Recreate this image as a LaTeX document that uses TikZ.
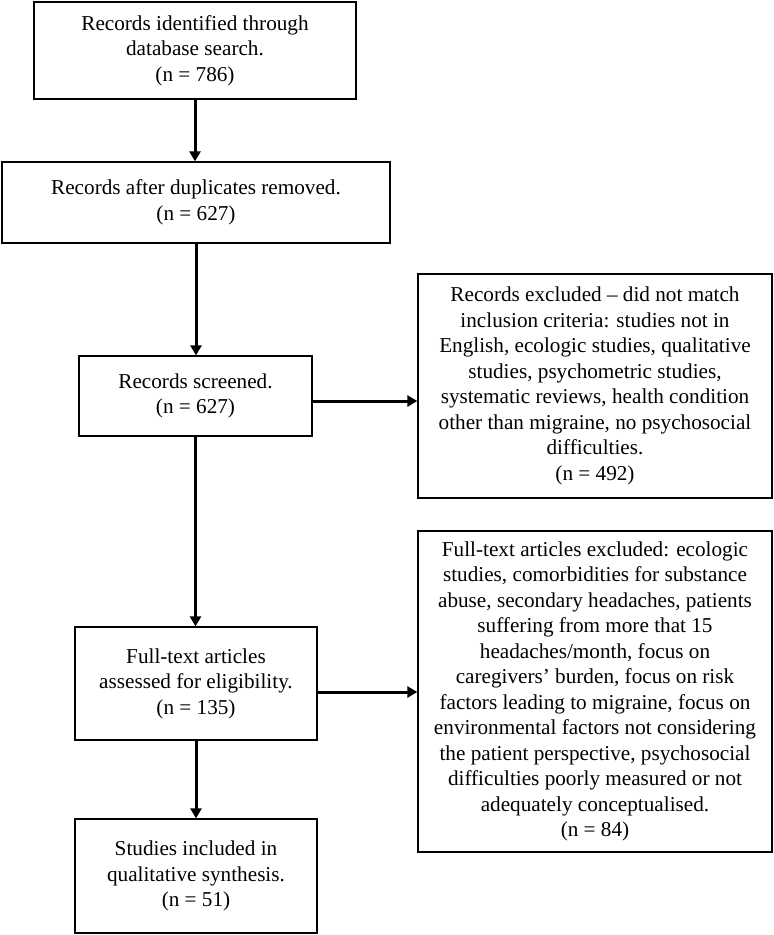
\documentclass[tikz,border=0pt]{standalone}
\usepackage{fontspec}
\setmainfont{Liberation Serif}
\usepackage{tikz}
\usetikzlibrary{arrows.meta, positioning, calc}

\tikzset{
  box/.style={draw, line width=1.3pt, align=center, inner sep=0pt,
    font=\fontsize{21.2}{25.5}\selectfont},
  arr/.style={line width=3pt, -{Triangle[length=10pt, width=11pt]}}
}

\begin{document}
\begin{tikzpicture}[x=1pt, y=-1pt]
    \useasboundingbox (0,0) rectangle (774,935);
    % main column
    \node[box, minimum width=322pt, minimum height=97pt] (ident) at (195,50.5)
      {Records identified through\\ database search.\\ (n = 786)};
    \node[box, minimum width=388pt, minimum height=81pt] (dedup) at (196,202.5)
      {Records after duplicates removed.\\ (n = 627)};
    \node[box, minimum width=233pt, minimum height=80pt] (screen) at (195.5,396)
      {Records screened.\\ (n = 627)};
    \node[box, minimum width=242pt, minimum height=113pt] (full) at (196,683.5)
      {Full-text articles\\ assessed for eligibility.\\ (n = 135)};
    \node[box, minimum width=242pt, minimum height=114pt] (incl) at (196,876)
      {Studies included in\\ qualitative synthesis.\\ (n = 51)};
    % exclusions
    \node[box, minimum width=354pt, minimum height=224pt] (exclA) at (595,386)
      {Records excluded -- did not match\\ inclusion criteria: studies not in\\
       English, ecologic studies, qualitative\\ studies, psychometric studies,\\
       systematic reviews, health condition\\ other than migraine, no psychosocial\\
       difficulties.\\ (n = 492)};
    \node[box, minimum width=354pt, minimum height=321pt] (exclB) at (595,691.5)
      {Full-text articles excluded: ecologic\\ studies, comorbidities for substance\\
       abuse, secondary headaches, patients\\ suffering from more that 15\\
       headaches/month, focus on\\ caregivers' burden, focus on risk\\
       factors leading to migraine, focus on\\ environmental factors not considering\\
       the patient perspective, psychosocial\\ difficulties poorly measured or not\\
       adequately conceptualised.\\ (n = 84)};
    % arrows
    \draw[arr] (ident.south) -- (ident.south |- dedup.north);
    \draw[arr] (dedup.south) -- (dedup.south |- screen.north);
    \draw[arr] (screen.south) -- (screen.south |- full.north);
    \draw[arr] (full.south) -- (full.south |- incl.north);
    \draw[arr] ([yshift=-5pt]screen.east) -- ([yshift=-5pt]screen.east -| exclA.west);
    \draw[arr] ([yshift=-8.5pt]full.east) -- ([yshift=-8.5pt]full.east -| exclB.west);
\end{tikzpicture}
\end{document}
